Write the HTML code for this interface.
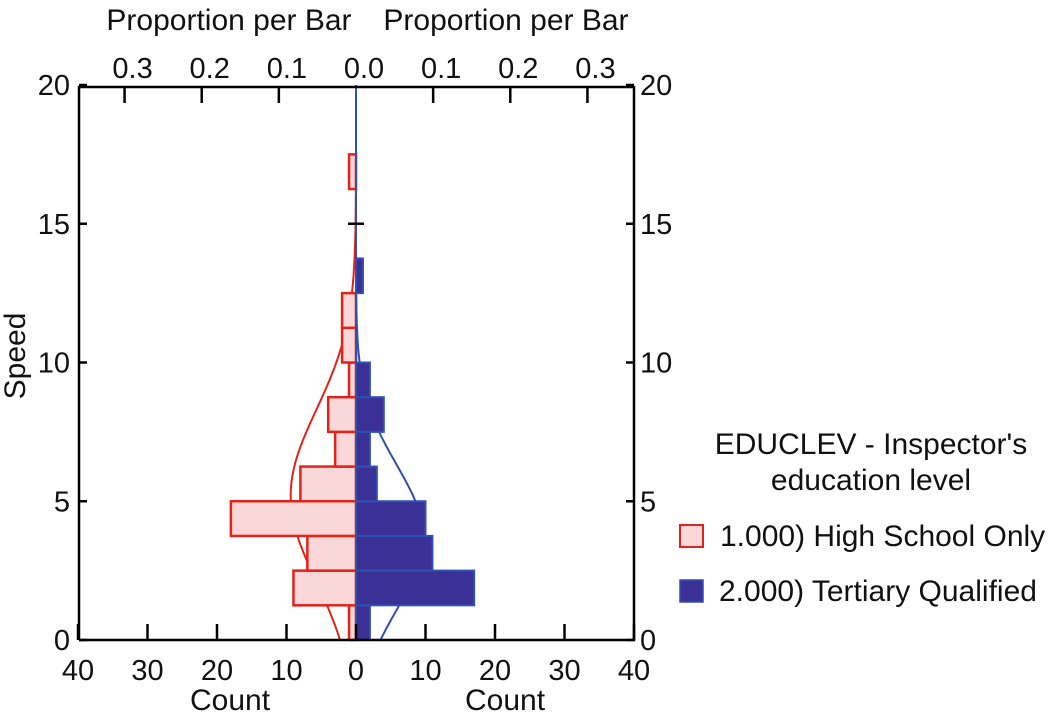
<!DOCTYPE html>
<html><head><meta charset="utf-8"><style>
body{margin:0;background:#fff;}
svg{display:block;font-family:"Liberation Sans",Arial,sans-serif;}
</style></head><body>
<svg id="chart" width="1050" height="721">
<g id="curves"></g>
<g id="marks"></g>
<g id="axes" stroke="#000" stroke-width="2.5" fill="none"></g>
<g id="labels" font-size="29" fill="#111"></g>
</svg>
<script>
const binStarts=[0,1.25,2.5,3.75,5,6.25,7.5,8.75,10,11.25,12.5,13.75,15,16.25];
const highSchoolCounts=[1,9,7,18,8,3,4,1,2,2,0,0,0,1];
const tertiaryCounts=[2,17,11,10,3,2,4,2,0,0,1,0,0,0];
const binWidth=1.25;
const countTicks=[40,30,20,10,0,10,20,30,40];
const propTicks=[0.3,0.2,0.1,0.0,0.1,0.2,0.3];
const speedTicks=[0,5,10,15,20];
const redCurve={mean:5.2,sd:3.1,peak:9.4};
const blueCurve={mean:3.7,sd:2.6,peak:9.7};
const totalPerGroup=111;

const X0=79,X1=634,CX=356,Y0=640,Y1=87;
const cpx=(X1-CX)/40;
const ys=v=>Y0-(v/20)*(Y0-85);
const xl=c=>CX-c*cpx, xr=c=>CX+c*cpx;
const NS="http://www.w3.org/2000/svg";
function mk(tag,attrs,parent){const e=document.createElementNS(NS,tag);for(const k in attrs)e.setAttribute(k,attrs[k]);parent.appendChild(e);return e;}
const marks=document.getElementById('marks'),axes=document.getElementById('axes'),labels=document.getElementById('labels'),curves=document.getElementById('curves');

binStarts.forEach((s,i)=>{
  const yt=ys(s+binWidth),yb=ys(s);
  if(highSchoolCounts[i]>0){
    const r=mk('rect',{x:xl(highSchoolCounts[i]),y:yt,width:CX-xl(highSchoolCounts[i]),height:yb-yt,fill:'#fad7d8',stroke:'#e2231a','stroke-width':2.5},marks);
    
    
  }
  if(tertiaryCounts[i]>0){
    const r=mk('rect',{x:CX,y:yt,width:xr(tertiaryCounts[i])-CX,height:yb-yt,fill:'#3a3096',stroke:'#2f4fb3','stroke-width':2},marks);
    
    
  }
});
function curve(c,side,color,name){
  let d='';
  for(let v=0;v<=20.001;v+=0.1){
    const cnt=c.peak*Math.exp(-Math.pow(v-c.mean,2)/(2*c.sd*c.sd));
    const x=side<0?xl(cnt):xr(cnt);
    d+=(d?'L':'M')+x.toFixed(1)+','+ys(v).toFixed(1);
  }
  const p=mk('path',{d:d,fill:'none',stroke:color,'stroke-width':2},curves);
  
  
}
curve(redCurve,-1,'#e2231a','high-school-density-curve');
curve(blueCurve,1,'#2f4fb3','tertiary-density-curve');
const zl=mk('line',{x1:CX,y1:Y1,x2:CX,y2:Y0,stroke:'#2f4fb3','stroke-width':2},marks);



const frame=mk('path',{d:`M${X0},${Y0}V${Y1}H${X1}V${Y0}H${X0}`},axes);


countTicks.forEach((c,i)=>{
  const x=i<4?xl(c):xr(c);
  mk('line',{x1:x,y1:Y0,x2:x,y2:Y0-16},axes);
  const t=mk('text',{x:x,y:680,'text-anchor':'middle'},labels);t.textContent=c;
  
  
});
propTicks.forEach((p,i)=>{
  const c=p*totalPerGroup;
  const x=i<3?xl(c):xr(c);
  if(p>0) mk('line',{x1:x,y1:Y1,x2:x,y2:Y1+16},axes);
  const t=mk('text',{x:x+8,y:78,'text-anchor':'middle'},labels);t.textContent=p.toFixed(1);
  
  
});
speedTicks.forEach(v=>{
  const y=ys(v);
  mk('line',{x1:X0,y1:y,x2:X0+8,y2:y},axes);
  mk('line',{x1:X1-8,y1:y,x2:X1,y2:y},axes);
  if(v==15) mk('line',{x1:CX-8,y1:y,x2:CX+8,y2:y},axes);
  const t=mk('text',{x:X0-9,y:y+10,'text-anchor':'end'},labels);t.textContent=v;
  
  
  const t2=mk('text',{x:X1+6,y:y+10},labels);t2.textContent=v;
  
  
});
</script>
<svg width="1050" height="721" style="position:absolute;left:0;top:0" font-family="Liberation Sans, Arial, sans-serif" font-size="30" fill="#111">
<text x="229" y="30" text-anchor="middle">Proportion per Bar</text>
<text x="506" y="30" text-anchor="middle">Proportion per Bar</text>
<text x="230" y="710" text-anchor="middle">Count</text>
<text x="505" y="710" text-anchor="middle">Count</text>
<text transform="translate(25,356) rotate(-90)" text-anchor="middle">Speed</text>
<g>
<text x="871" y="454" text-anchor="middle">EDUCLEV - Inspector's</text>
<text x="871" y="490" text-anchor="middle">education level</text>
<rect x="680" y="525" width="23" height="22" fill="#fad7d8" stroke="#e2231a" stroke-width="2"/>
<text x="720" y="546">1.000) High School Only</text>
<rect x="680" y="580" width="23" height="22" fill="#3a3096" stroke="#2f4fb3" stroke-width="1.5"/>
<text x="719" y="601">2.000) Tertiary Qualified</text>
</g>
</svg>
</body></html>
